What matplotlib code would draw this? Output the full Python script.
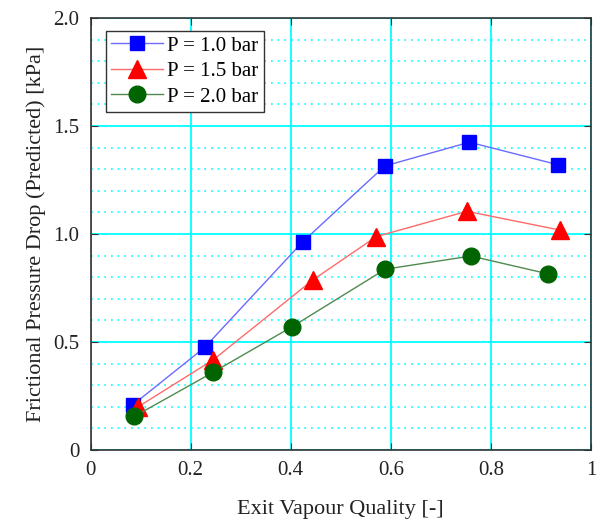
import matplotlib
matplotlib.use('Agg')
import matplotlib.pyplot as plt
from matplotlib.ticker import MultipleLocator

plt.rcParams['font.family'] = ['Liberation Serif', 'DejaVu Serif']

x_10 = [0.085, 0.228, 0.424, 0.588, 0.757, 0.935]
dp_10 = [0.21, 0.475, 0.964, 1.315, 1.425, 1.32]

x_15 = [0.095, 0.245, 0.444, 0.571, 0.752, 0.938]
dp_15 = [0.20, 0.417, 0.787, 0.988, 1.105, 1.018]

x_20 = [0.087, 0.245, 0.403, 0.589, 0.76, 0.915]
dp_20 = [0.155, 0.36, 0.571, 0.837, 0.898, 0.815]

labels = ['P = 1.0 bar', 'P = 1.5 bar', 'P = 2.0 bar']

fig = plt.figure(figsize=(6, 5.22), dpi=100)
ax = fig.add_axes([0.151, 0.138, 0.834, 0.8275])

ax.plot(x_10, dp_10, color='#6b6bff', lw=1, marker='s', ms=10.5,
        mfc='blue', mec='blue', label=labels[0], zorder=3)
ax.plot(x_15, dp_15, color='#ff6b6b', lw=1, marker='^', ms=13,
        mfc='red', mec='red', label=labels[1], zorder=3)
ax.plot(x_20, dp_20, color='#4f8a4f', lw=1, marker='o', ms=12,
        mfc='#006400', mec='#006400', label=labels[2], zorder=3)

ax.set_xlim(0, 1)
ax.set_ylim(0, 2)
ax.yaxis.set_minor_locator(MultipleLocator(0.1))
ax.set_xticks([0, 0.2, 0.4, 0.6, 0.8, 1])
ax.set_xticklabels(['0', '0.2', '0.4', '0.6', '0.8', '1'])
ax.set_yticks([0, 0.5, 1.0, 1.5, 2.0])
ax.set_yticklabels(['0', '0.5', '1.0', '1.5', '2.0'])

ax.grid(True, which='major', color='cyan', lw=1.3, ls='-', zorder=0)
ax.grid(True, which='minor', axis='y', color='cyan', lw=1.2, ls=(0, (1, 3)), zorder=0)
ax.set_axisbelow(True)

ax.tick_params(which='both', direction='in', top=True, right=True,
               labelsize=15, color='#333333', labelcolor='#222222', pad=8)
ax.tick_params(which='minor', length=0)
ax.tick_params(which='major', length=5)
for s in ax.spines.values():
    s.set_color('#333333')
    s.set_linewidth(1.2)

ax.set_xlabel('Exit Vapour Quality [-]', fontsize=16, labelpad=14, color='#222222')
ax.set_ylabel('Frictional Pressure Drop (Predicted) [kPa]', fontsize=16,
              labelpad=5, color='#222222')

leg = ax.legend(loc='upper left', bbox_to_anchor=(0.03, 0.97), borderaxespad=0,
                fontsize=15, fancybox=False, edgecolor='#333333', framealpha=1,
                handlelength=2.5, borderpad=0.25, labelspacing=0.28,
                handletextpad=0.2)
leg.get_frame().set_linewidth(1.0)

fig.savefig('out.png', dpi=100)
